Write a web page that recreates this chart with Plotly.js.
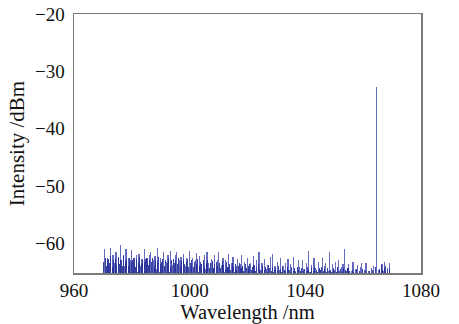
<!DOCTYPE html>
<html>
<head>
<meta charset="utf-8">
<script src="https://cdn.plot.ly/plotly-3.0.1.min.js"></script>
<style>html,body{margin:0;padding:0;background:#fff;}#chart{width:459px;height:324px;}</style>
</head>
<body>
<div id="chart"></div>
<script>
// Wavelength grid (nm), 0.5 nm step from 970 to 1070
const wavelengthStart = 970;
const wavelengthStep = 0.5;
// Intensity (dBm) of the spectrum samples, 10 samples per row (5 nm)
const intensity = [
  -68,-61,-66,-62.5,-64,-60.8,-67,-62,-63.5,-61.5,
  -66,-63,-60.3,-65,-62,-64,-61,-67,-62.5,-63,
  -61.2,-66,-63.5,-62,-65,-61.8,-64,-62.8,-66,-61,
  -63,-65.5,-62,-61.5,-66,-63,-62.2,-64.5,-60.8,-65,
  -62.5,-64,-61.6,-66,-63.2,-62,-65,-61.3,-63.8,-66,
  -62,-61.5,-65,-63,-62.4,-66,-61.8,-64,-62.6,-65.5,
  -61.4,-64,-62.5,-66,-63,-61.7,-65,-62.2,-63.6,-66,
  -62,-64.5,-61.5,-63.4,-66,-62.8,-64,-62,-65.5,-63,
  -61.6,-66,-63.8,-62.5,-65,-63,-64.2,-61.8,-66,-63.5,
  -62.4,-65,-64,-62.8,-66,-63.6,-62,-64.8,-63.2,-66,
  -62.6,-64.5,-63.4,-66,-62.2,-64.8,-63,-66,-61.5,-64.6,
  -63.5,-66,-62.8,-64.5,-63.8,-66,-62.4,-61.8,-65,-63.9,
  -66,-63.2,-64.6,-62.5,-66,-64,-63.4,-66,-62.8,-64.7,
  -63.6,-66,-62.4,-64.8,-66,-63,-64.2,-66,-62.9,-64.5,
  -66,-63.5,-61.3,-65,-63.8,-66,-62.6,-64.4,-66,-63.2,
  -64.6,-66,-62.5,-64,-63.4,-66,-64.8,-61.6,-65,-63.7,
  -66,-63.3,-64.5,-62.9,-66,-64.2,-63.6,-61,-66,-64.4,
  -63.6,-66,-64.8,-63.2,-66,-64.5,-63.8,-66,-64.2,-63.5,
  -66,-64.6,-63.4,-66,-64.8,-66,-64.3,-63.9,-66,-32.7,
  -66,-64.7,-66,-63.6,-64.9,-63.2,-66,-64.4,-63.5,-65.2,
  -66
];
// Intensity (dBm) of the interleaved samples (offset by 0.25 nm): the dense low noise floor
const intensityFloor = [
  -63.2,-62.5,-64,-62.8,-63.5,-62.2,-64.2,-63,-62.6,-63.8,
  -62.4,-63.6,-62.9,-64,-62.3,-63.1,-62.7,-63.9,-62.5,-63.3,
  -63,-62.6,-64.1,-62.8,-63.4,-62.4,-63.7,-62.9,-63.2,-62.7,
  -62.5,-63.8,-62.9,-63.3,-62.6,-64,-62.8,-63.1,-62.4,-63.6,
  -63.2,-62.7,-63.9,-62.9,-63.5,-62.6,-64.2,-63,-62.8,-63.4,
  -62.9,-63.7,-62.6,-64,-63.1,-62.8,-63.6,-63.3,-62.7,-64.1,
  -63.4,-62.9,-64.2,-63.2,-63.7,-62.8,-64,-63.3,-63.6,-62.9,
  -64.1,-63.4,-63,-64.3,-63.5,-63.1,-64.4,-63.6,-63.2,-64,
  -63.5,-64.4,-63.1,-63.8,-64.5,-63.3,-64.1,-63.7,-64.6,-63.4,
  -64.2,-63.6,-64.7,-63.9,-63.5,-64.4,-64,-64.8,-63.7,-64.3,
  -64,-63.6,-64.7,-64.1,-63.8,-64.9,-64.2,-63.7,-64.5,-64.8,
  -63.9,-64.6,-64.2,-65,-63.8,-64.4,-64.9,-64.1,-64.7,-64.3,
  -64.8,-64,-64.5,-65,-63.9,-64.6,-64.9,-64.2,-64.7,-65,
  -64.1,-64.8,-64.4,-65,-64.2,-64.6,-64.9,-64.3,-64.8,-64.5,
  -64.9,-64.2,-64.7,-65,-64.4,-64.8,-64.1,-64.6,-65,-64.3,
  -64.7,-64.2,-64.9,-64.5,-65,-64.3,-64.8,-64.6,-65,-64.4,
  -64.6,-65,-64.2,-64.8,-64.5,-65,-64.3,-64.7,-64.9,-64.4,
  -64.8,-66,-64.6,-65,-66,-64.7,-66,-64.9,-66,-64.5,
  -66,-64.8,-66,-66,-64.9,-66,-64.6,-66,-64.2,-66,
  -66,-64.5,-63.8,-64.6,-64.3,-63.9,-64.7,-66,-64.4,-66
];
const noiseFloor = -70; // spectrum lines rise from below the axis bottom
const wavelength = intensity.map((_, i) => wavelengthStart + i * wavelengthStep);
const wavelengthFloor = intensityFloor.map((_, i) => wavelengthStart + wavelengthStep / 2 + i * wavelengthStep);

const xTickVals = [960, 1000, 1040, 1080];
const yTickVals = [-60, -50, -40, -30, -20];

const fontFamily = '"Liberation Serif", "DejaVu Serif", serif';

const traceSpikes = {
  x: wavelength,
  y: intensity.map(v => v - noiseFloor),
  base: noiseFloor,
  type: 'bar',
  width: 0.4,
  marker: {color: 'rgba(60,70,178,0.8)', line: {width: 0}},
  hoverinfo: 'skip'
};
const traceFloor = {
  x: wavelengthFloor,
  y: intensityFloor.map(v => v - noiseFloor),
  base: noiseFloor,
  type: 'bar',
  width: 0.36,
  marker: {color: 'rgba(35,45,150,0.9)', line: {width: 0}},
  hoverinfo: 'skip'
};

const layout = {
  width: 459,
  height: 324,
  margin: {l: 74, r: 38, t: 14, b: 51},
  paper_bgcolor: '#fff',
  plot_bgcolor: '#fff',
  showlegend: false,
  barmode: 'overlay',
  bargap: 0,
  font: {family: fontFamily, color: '#111', size: 19},
  xaxis: {
    range: [960, 1080],
    tickvals: xTickVals,
    ticks: '',
    showgrid: false,
    zeroline: false,
    showline: true,
    mirror: true,
    linecolor: '#7a7a7a',
    linewidth: 1.5,
    tickfont: {size: 19, family: fontFamily},
    title: {text: 'Wavelength /nm', font: {size: 20.5, family: fontFamily}, standoff: 1}
  },
  yaxis: {
    range: [-65.2, -20],
    tickvals: yTickVals,
    ticks: '',
    ticklabelstandoff: 4,
    showgrid: false,
    zeroline: false,
    showline: true,
    mirror: true,
    linecolor: '#7a7a7a',
    linewidth: 1.5,
    tickfont: {size: 19, family: fontFamily},
    title: {text: 'Intensity /dBm', font: {size: 21, family: fontFamily}, standoff: 4}
  }
};

Plotly.newPlot('chart', [traceSpikes, traceFloor], layout, {staticPlot: true, displayModeBar: false});
</script>
</body>
</html>
